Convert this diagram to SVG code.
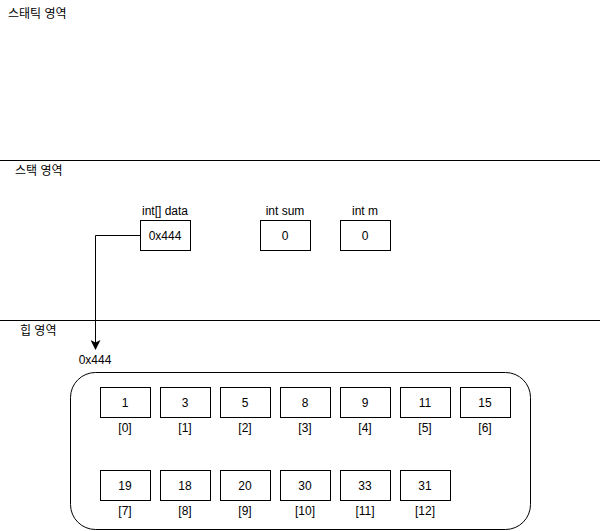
<svg xmlns="http://www.w3.org/2000/svg" width="602" height="531" viewBox="0 0 602 531">
<defs>
<style>
text{font-family:"Liberation Sans","Noto Sans CJK KR",Arial,sans-serif;font-size:12px;fill:#000}
.c{text-anchor:middle}
.box{fill:#fff;stroke:#000;stroke-width:1}
.ln{stroke:#000;stroke-width:1;fill:none}
</style>
<marker id="arr" viewBox="0 0 10 10" refX="9" refY="5" markerWidth="10" markerHeight="10" markerUnits="userSpaceOnUse" orient="auto">
<path d="M0,0 L10,5 L0,10 L2.5,5 Z" fill="#000"/>
</marker>
</defs>
<rect width="602" height="531" fill="#fff"/>
<g id="regions">
<line class="ln" x1="0" y1="160.5" x2="600" y2="160.5"/>
<line class="ln" x1="0" y1="320.5" x2="600" y2="320.5"/>
<text x="8" y="18">스태틱 영역</text>
<text x="15" y="175">스택 영역</text>
<text x="20" y="335">힙 영역</text>
</g>
<g id="connectors">
<path class="ln" d="M140,235.5 H95.5 V349" marker-end="url(#arr)"/>
</g>
<g id="var-data">
<text class="c" x="165" y="215">int[] data</text>
<rect class="box" x="140.5" y="220.5" width="50" height="30"/>
<text class="c" x="165" y="240">0x444</text>
</g>
<g id="var-sum">
<text class="c" x="285" y="215">int sum</text>
<rect class="box" x="260.5" y="220.5" width="50" height="30"/>
<text class="c" x="285" y="240">0</text>
</g>
<g id="var-m">
<text class="c" x="365" y="215">int m</text>
<rect class="box" x="340.5" y="220.5" width="50" height="30"/>
<text class="c" x="365" y="240">0</text>
</g>
<g id="heap-array">
<text class="c" x="95" y="364">0x444</text>
<rect class="box" x="70.5" y="372.5" width="460" height="157" rx="25" ry="25"/>
</g>
<g id="el0"><rect class="box" x="100.5" y="387.5" width="50" height="30"/><text class="c" x="125" y="407">1</text><text class="c" x="125" y="432">[0]</text></g>
<g id="el1"><rect class="box" x="160.5" y="387.5" width="50" height="30"/><text class="c" x="185" y="407">3</text><text class="c" x="185" y="432">[1]</text></g>
<g id="el2"><rect class="box" x="220.5" y="387.5" width="50" height="30"/><text class="c" x="245" y="407">5</text><text class="c" x="245" y="432">[2]</text></g>
<g id="el3"><rect class="box" x="280.5" y="387.5" width="50" height="30"/><text class="c" x="305" y="407">8</text><text class="c" x="305" y="432">[3]</text></g>
<g id="el4"><rect class="box" x="340.5" y="387.5" width="50" height="30"/><text class="c" x="365" y="407">9</text><text class="c" x="365" y="432">[4]</text></g>
<g id="el5"><rect class="box" x="400.5" y="387.5" width="50" height="30"/><text class="c" x="425" y="407">11</text><text class="c" x="425" y="432">[5]</text></g>
<g id="el6"><rect class="box" x="460.5" y="387.5" width="50" height="30"/><text class="c" x="485" y="407">15</text><text class="c" x="485" y="432">[6]</text></g>
<g id="el7"><rect class="box" x="100.5" y="470.5" width="50" height="30"/><text class="c" x="125" y="490">19</text><text class="c" x="125" y="515">[7]</text></g>
<g id="el8"><rect class="box" x="160.5" y="470.5" width="50" height="30"/><text class="c" x="185" y="490">18</text><text class="c" x="185" y="515">[8]</text></g>
<g id="el9"><rect class="box" x="220.5" y="470.5" width="50" height="30"/><text class="c" x="245" y="490">20</text><text class="c" x="245" y="515">[9]</text></g>
<g id="el10"><rect class="box" x="280.5" y="470.5" width="50" height="30"/><text class="c" x="305" y="490">30</text><text class="c" x="305" y="515">[10]</text></g>
<g id="el11"><rect class="box" x="340.5" y="470.5" width="50" height="30"/><text class="c" x="365" y="490">33</text><text class="c" x="365" y="515">[11]</text></g>
<g id="el12"><rect class="box" x="400.5" y="470.5" width="50" height="30"/><text class="c" x="425" y="490">31</text><text class="c" x="425" y="515">[12]</text></g>
</svg>
